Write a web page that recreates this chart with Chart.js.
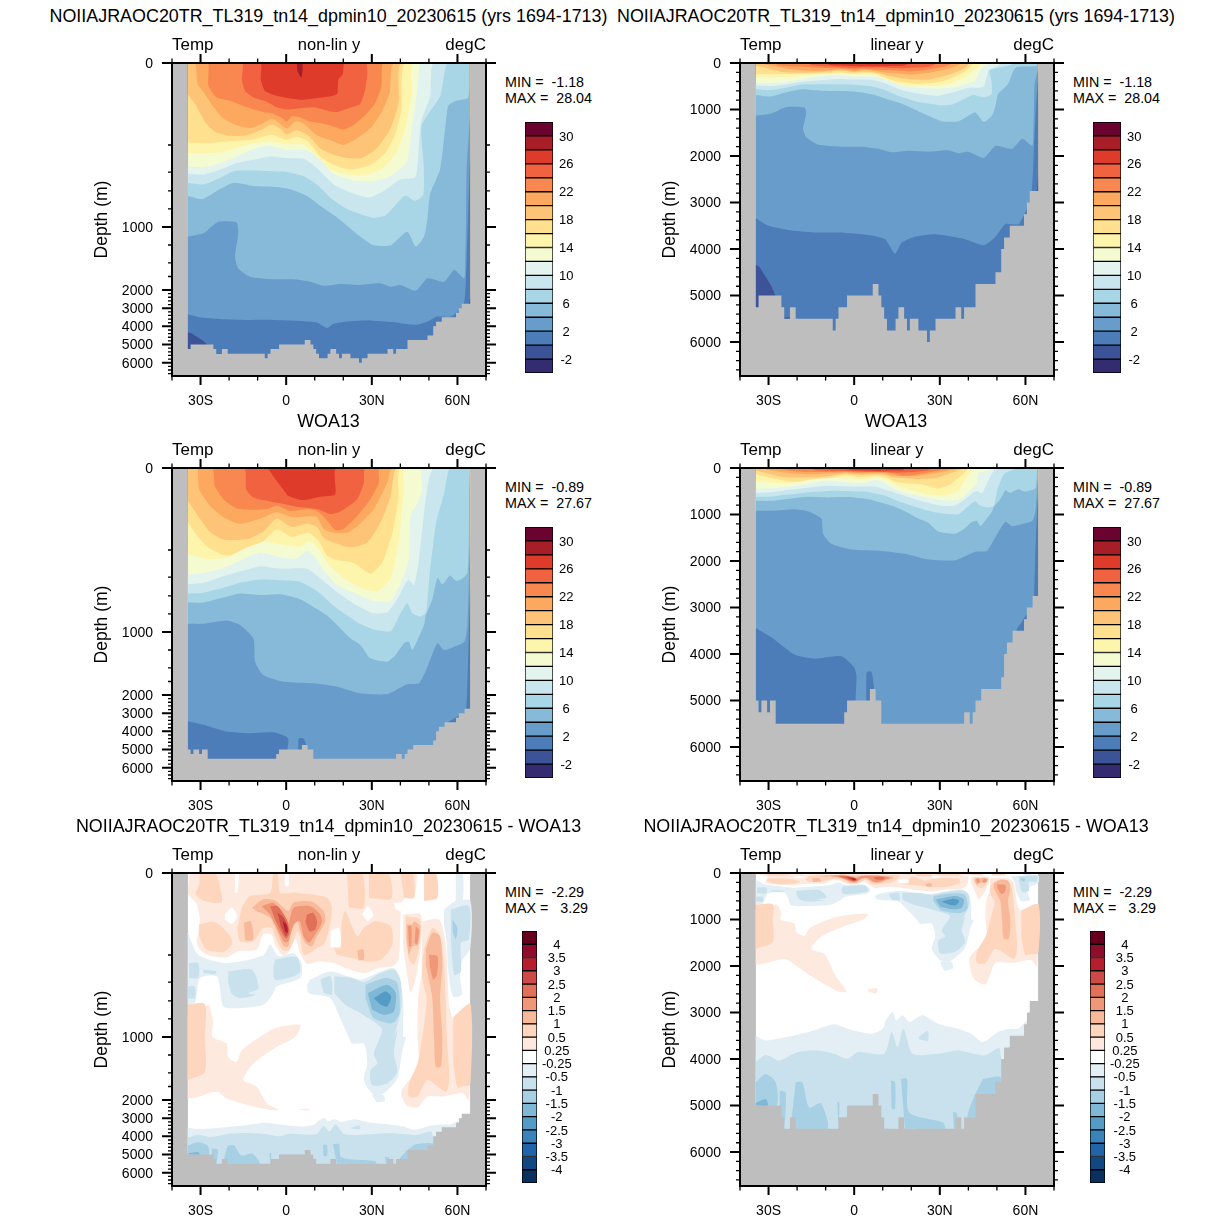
<!DOCTYPE html>
<html>
<head>
<meta charset="utf-8">
<title>Temp sections</title>
<script src="https://cdn.jsdelivr.net/npm/chart.js@4/dist/chart.umd.js"></script>
<style>
  body { margin: 0; background: #fff; }
  canvas { position: absolute; }
  .txt { position: absolute; white-space: pre; color: #000; font-family: "Liberation Sans", sans-serif; line-height: 1; }
</style>
</head>
<body>
<script>
// Contour bands, coldest first
const tempColors = ['#332c70','#3c5397','#4d7db8','#689dcb','#86bad8','#a8d6e6','#c9e6ef','#e3f3ee','#f4fbd0','#fef5ac','#fee08f','#fdc478','#fca85f','#f98850','#f16240','#df3b2a','#a81e28','#6a0330'];
const tempLabels = ['-2','','2','','6','','10','','14','','18','','22','','26','','30'];
const diffColors = ['#0b305f','#124882','#2264a9','#3a83ba','#549bc6','#7fb7d6','#a7d0e4','#c8e1ec','#e3eff5','#ffffff','#fee9df','#fdd6bd','#f8b99a','#f09778','#e07058','#ce4a47','#b61e2e','#8f0d2a','#67001f'];
const diffLabels = ['-4','-3.5','-3','-2.5','-2','-1.5','-1','-0.5','-0.25','0.25','0.5','1','1.5','2','2.5','3','3.5','4'];

const latTicks = [-30, 0, 30, 60];
const latLabels = ['30S', '0', '30N', '60N'];
const latMinor = [-40, -20, -10, 10, 20, 40, 50, 70];
const depthTicks = [0, 1000, 2000, 3000, 4000, 5000, 6000];

// Depths are listed on the stretched coordinate of the non-lin axis;
// the linear panels unstretch it with these two lists (coordinate -> metres).
const linCoord = [0, 200, 335, 500, 665, 780, 890, 1000, 1286, 1571, 1786, 2000, 6730];
const linMetres = [0, 60, 130, 250, 470, 640, 820, 1000, 1250, 1500, 1750, 2000, 6730];
const nonlinMinor = [500, 665, 780, 890, 1286, 1571, 1786, 2200, 2400, 2600, 2800, 3200, 3400, 3600, 3800, 4200, 4400, 4600, 4800, 5200, 5400, 5600, 5800, 6200, 6400, 6600];
const linearMinor = [200, 400, 600, 800, 1200, 1400, 1600, 1800, 2200, 2400, 2600, 2800, 3200, 3400, 3600, 3800, 4200, 4400, 4600, 4800, 5200, 5400, 5600, 5800, 6200, 6400, 6600];

// Sea floor: left edge of each step, depth of the step
const modelFloorLat = [-34.5,-33.5,-25.5,-24.5,-22.5,-20.5,-7.5,-6.5,-5.5,-2.5,6.5,8.5,9.5,10.5,11.5,14.5,15.5,17.5,18.5,19.5,22.5,25.5,26.5,28.5,35.5,37.5,38.5,42.5,49.5,51.5,52.5,54.5,59.5,60.5,61.5,64.5];
const modelFloorDepth = [5250,5000,5250,5500,5250,5500,5750,5500,5250,5000,4750,5000,5250,5500,5750,5500,5250,5500,5750,5500,5750,6000,5750,5500,5250,5500,5250,4750,4500,4000,3750,3500,3250,3000,2750,2750];
const woaFloorLat = [-34.5,-33.5,-32.5,-30.5,-29.5,-27.5,-3.5,-2.5,5.5,7.5,9.5,38.5,40.5,41.5,42.5,44.5,51.5,52.5,53.5,55.5,59.5,60.5,62.5,64.5];
const woaFloorDepth = [5000,5250,5000,5250,5000,5500,5250,5000,4750,5000,5500,5250,5500,5250,5000,4750,4500,4000,3750,3500,3250,3000,2750,2750];
const diffFloorLat = [-34.5,-25.5,-24.5,-22.5,-20.5,-5.5,-2.5,6.5,8.5,9.5,10.5,11.5,15.5,17.5,35.5,37.5,38.5,42.5,49.5,51.5,52.5,54.5,59.5,60.5,61.5,64.5];
const diffFloorDepth = [5000,5250,5500,5250,5500,5250,5000,4750,5000,5250,5500,5500,5250,5500,5250,5500,5250,4750,4500,4000,3750,3500,3250,3000,2750,2750];

// Model isotherms, [lat, depth]
const modelT28 = [[3.4,0],[4,50],[5.3,90],[5.8,40],[6,0]];
const modelT26 = [[-9.1,0],[-8.9,100],[-7.4,170],[-3.3,200],[1.4,216],[6,224],[10.7,214],[17.7,190],[18.3,100],[19.8,70],[20.6,0]];
const modelT24 = [[-15.5,0],[-15.5,100],[-14.4,170],[-11.4,210],[-6.8,236],[-3.3,270],[0.2,284],[4.9,276],[9.6,270],[14.2,290],[17.7,300],[21.8,276],[25.9,250],[27.7,160],[28.5,60],[28.5,0]];
const modelT22 = [[-27.5,0],[-27.2,140],[-24.3,210],[-19.6,230],[-13.8,270],[-7.9,300],[-5,306],[-1.5,336],[0.2,356],[2,324],[4.3,330],[8.4,356],[13,370],[17.2,390],[20,406],[23.5,380],[27,330],[31,250],[33.4,140],[34.2,0]];
const modelT20 = [[-31.9,0],[-31,130],[-28.4,190],[-25.4,270],[-21.9,340],[-17.3,380],[-12.6,396],[-8.5,370],[-5,340],[-2.1,370],[0.2,400],[3.2,356],[6.1,370],[10.7,440],[15.4,470],[20,500],[24.7,460],[29.4,400],[33.4,300],[36.3,180],[37.8,0]];
const modelT18 = [[-34.5,190],[-31.9,250],[-28.4,360],[-24.9,420],[-19.6,444],[-13.8,440],[-9.1,410],[-5,376],[-2.1,400],[0.2,436],[3.7,410],[7.8,444],[11.9,520],[16.6,560],[21.3,580],[26.5,580],[31.8,520],[36.5,400],[39.4,240],[40.3,0]];
const modelT16 = [[-34.5,484],[-28.4,490],[-24.3,484],[-18.4,476],[-12.6,470],[-8,450],[-5,436],[-2.1,456],[0.2,470],[3.7,450],[7.8,480],[11.9,570],[16.6,620],[22.4,650],[29.4,624],[34.6,550],[38.1,440],[40.4,280],[41.7,0]];
const modelT14 = [[-34.5,550],[-28.4,550],[-22.5,544],[-17.3,516],[-11.4,490],[-5,480],[0.2,496],[6.1,500],[10.7,570],[15.4,650],[21.3,680],[28.2,680],[34.1,640],[38.7,540],[41.7,400],[44,180],[44.6,0]];
const modelT12 = [[-34.5,630],[-28.9,636],[-23,610],[-17.3,570],[-11.4,524],[-6.2,504],[0.2,530],[7.2,530],[11.9,590],[16.6,676],[23.6,716],[30.6,720],[36.5,690],[42.3,600],[44,400],[45.2,260],[46.3,100],[47.2,0]];
const modelT10 = [[-34.5,676],[-28.9,680],[-23,650],[-17.3,610],[-11.4,590],[-5.6,570],[0.2,580],[6.1,584],[10.7,640],[16.6,740],[22.4,790],[28.9,820],[34.1,780],[40,710],[45.2,696],[46.3,560],[47.2,360],[50.5,200],[51.6,0]];
const modelT8 = [[-34.5,730],[-28.9,740],[-23,700],[-18.4,660],[-11.4,656],[-5.6,660],[0.2,664],[6.1,690],[10.7,740],[15.4,820],[21.3,890],[26,920],[30.6,944],[34.7,930],[38.1,870],[41.7,810],[45.2,840],[48.1,800],[48.1,600],[47.5,380],[54,200],[56.5,0]];
const modelT6 = [[-34.5,810],[-29.5,830],[-24.3,780],[-18.4,730],[-11.4,750],[-3.3,756],[1.4,770],[7.2,810],[11.9,870],[17.7,940],[26,1154],[30.7,1290],[36.6,1290],[42.4,1075],[45.4,1310],[48.3,1150],[49.5,950],[50.4,800],[53.9,650],[55.7,400],[56.8,260],[59.7,230],[63.8,210],[64.2,0]];
const modelT4 = [[-34.5,1154],[-29,1100],[-23.8,968],[-17.4,973],[-16.8,1100],[-17.9,1471],[-16.8,1656],[-12.7,1789],[-4.5,1830],[2.6,1830],[8.4,1868],[13.1,1932],[19,1905],[26,1920],[33,1894],[36.6,1948],[40,1920],[45.4,2040],[49.5,1814],[55.3,1868],[58.9,1683],[62.4,1814],[62.8,1417],[63,957],[63.2,660],[64.5,300]];
const modelT2 = [[-34.5,3331],[-30.2,3496],[-23.2,3590],[-13.8,3644],[-4.5,3644],[4.9,3699],[10.8,3790],[14.3,4100],[16.6,3863],[21.3,3736],[28.4,3680],[37.7,3770],[45.4,3918],[49.5,3736],[53,3463],[57.7,3463],[61.8,2915],[62.5,2500],[63,1800],[63.8,900],[64.5,550]];
const modelT0 = [[-34.5,4340],[-33,4400],[-31.4,4559],[-29,4800],[-27.3,5050],[-26,5300],[-24.6,5470],[-22.5,5480],[-22.4,6730],[63.8,6730],[63.9,3000],[64.5,2400]];

// WOA13 isotherms, [lat, depth]
const woaT26 = [[-6.8,0],[-4.5,50],[-1.5,120],[0.8,170],[6.1,195],[12,175],[17.2,160],[17.6,0]];
const woaT24 = [[-14.8,0],[-14,130],[-11.5,180],[-6.8,200],[-0.9,220],[4.9,240],[10.8,250],[15.5,280],[19,265],[24.9,190],[27.2,90],[27.8,0]];
const woaT22 = [[-25.9,0],[-25,110],[-22,190],[-17.4,245],[-11.5,255],[-6.8,250],[-3.3,230],[1.4,262],[7.3,252],[10.8,262],[14.3,320],[17.2,378],[20.2,370],[24.9,292],[29.5,190],[32.5,90],[32.8,0]];
const woaT20 = [[-31.2,0],[-30.5,130],[-26.7,230],[-22,300],[-16.2,340],[-9.1,310],[-3.3,270],[2,300],[7.3,295],[10.8,300],[13.1,370],[16.6,395],[21.3,395],[24.9,355],[30.7,250],[35.4,90],[37.2,0]];
const woaT18 = [[-34.5,200],[-30.2,310],[-26.7,390],[-22,436],[-13.8,435],[-7.9,385],[-3.3,310],[2,360],[7.3,340],[10.8,360],[13.1,425],[16.6,455],[22.5,485],[28.4,455],[33.1,330],[36.6,170],[38.9,0]];
const woaT16 = [[-34.5,330],[-31.8,400],[-27.7,480],[-22,530],[-15,530],[-7.9,445],[-3.3,375],[2,420],[7.9,395],[11.4,445],[14.3,535],[17.8,560],[23.7,580],[29.5,645],[33.6,580],[37.2,395],[39.3,190],[40.1,0]];
const woaT14 = [[-34.5,525],[-27.7,555],[-20.9,545],[-15,495],[-7.9,450],[-2.1,465],[4.9,480],[8.4,445],[11.4,495],[15.5,600],[20.2,670],[26,730],[31.9,750],[36.6,670],[39.5,435],[41.2,130],[41.5,0]];
const woaT12 = [[-34.5,650],[-28.9,640],[-22,610],[-16.2,565],[-9.1,515],[-2.1,545],[3.7,550],[7.3,505],[10.2,545],[13.1,625],[17.8,710],[23.7,760],[30.7,810],[36.6,810],[40.1,700],[43,555],[43.6,290],[46,210],[47.7,130],[47.7,0]];
const woaT10 = [[-34.5,710],[-28.9,700],[-22,660],[-16.2,630],[-9.1,600],[-0.9,615],[7.3,615],[13.1,690],[18.9,770],[24.9,840],[30.7,885],[35.4,880],[38.9,800],[41.9,700],[43,682],[44.8,715],[46.5,560],[48.9,190],[51.6,0]];
const woaT8 = [[-34.5,765],[-28.9,760],[-22,730],[-16.2,700],[-9.1,680],[-0.9,685],[4.9,695],[10.8,750],[16.6,840],[24.9,940],[30.7,985],[36.6,995],[39.5,905],[42.4,825],[44.2,885],[47.2,905],[49,880],[50.2,660],[52.5,335],[55.4,150],[57.4,0]];
const woaT6 = [[-34.5,820],[-28.9,820],[-22,790],[-16.2,765],[-9.1,775],[-2.1,770],[4.9,800],[10.8,860],[14.3,900],[17.8,957],[22.5,1100],[26,1206],[29.5,1418],[35.4,1471],[38.3,1365],[41.3,1179],[43,1154],[44.2,1286],[48.3,957],[48.9,900],[51.2,800],[53,670],[54.7,710],[57.4,655],[59.8,690],[63.5,640],[64.1,150],[64.4,0]];
const woaT4 = [[-34.5,950],[-29,950],[-20.9,930],[-16.2,957],[-11.5,1100],[-10.9,1471],[-8,1683],[-0.9,1789],[9.6,1814],[17.8,1868],[26,1974],[35.4,1985],[42.4,1830],[46.5,1814],[49.5,1550],[53,1179],[55.3,1286],[58.9,1233],[62.4,1154],[63.5,957],[64.1,640],[64.5,400]];
const woaT2 = [[-34.5,3440],[-29,3640],[-20.9,4010],[-13.8,4100],[-4.5,4047],[0,4285],[0.8,4466],[0.5,5014],[0.6,6730],[4.2,6730],[4.3,4400],[6,4380],[6.9,4700],[7,6730],[56.8,6730],[56.9,3480],[58.5,3330],[60.4,3160],[60.6,6730],[62.9,6730],[63,2900],[63.4,1980],[64,1000],[64.5,700]];

// Model minus WOA13, closed regions per band, [lat, depth]
const diffWarm025 = [
  [[-33.8,0],[-34.3,130],[-31.4,188],[-30.2,294],[-31.2,437],[-27.9,498],[-20.9,514],[-16.8,477],[-10.3,467],[-8,375],[-5,379],[-3.9,437],[-1.2,502],[0.8,481],[3.2,400],[4.9,488],[7.3,553],[11.4,539],[16.6,549],[21.3,583],[27.2,610],[32.5,579],[37.2,569],[39.5,518],[40.3,192],[41.9,151],[44.8,151],[46,0]],
  [[41,253],[47.1,253],[47.1,457],[45.4,641],[43.6,732],[42.4,620],[41,457]],
  [[47.7,294],[53.6,284],[55.9,437],[57.1,804],[58.9,906],[61.8,845],[64.5,800],[64.5,1420],[64,2000],[61.8,1890],[55.3,1945],[49.5,1945],[46,2400],[41.9,2270],[40.3,1870],[43,1690],[46.5,1590],[46,1000],[46.2,770],[47.4,620]],
  [[-34.5,875],[-30.2,865],[-27.3,804],[-25.6,906],[-25.8,1000],[-20.9,1105],[-20.3,1316],[-17.4,1395],[-15.6,1210],[-9.1,1000],[-3.9,946],[4.9,926],[3.2,1000],[-3.3,1158],[-11.5,1420],[-15,1684],[-10.3,1790],[-6.8,2180],[-2.7,2550],[-5.6,2550],[-15,2220],[-20.9,1973],[-24.4,1868],[-32.6,1973],[-34.5,1973]],
  [[4.5,2498],[8.2,2484],[7.6,2592],[5.2,2556]]
];
const diffHoles = [
  [[-21.5,253],[-19.1,212],[-17.1,263],[-19.1,310],[-21.5,284]],
  [[-17.9,0],[-16.6,0],[-17.1,120],[-17.9,120]],
  [[-0.4,0],[0.8,0],[0.8,80],[-0.4,80]],
  [[26.6,253],[28.6,202],[30.5,253],[28.6,298]],
  [[15.5,355],[18.4,335],[19,447],[15.5,453]],
  [[19.9,304],[20.4,233],[21.1,345],[20.2,365]],
  [[37.7,182],[40.7,182],[41,233],[38.4,222]]
];
const diffWarm05 = [
  [[-30.2,0],[-25,0],[-22.7,120],[-22.7,180],[-28.6,170],[-31.7,130],[-30.5,70]],
  [[-30.5,314],[-25.6,298],[-21.5,345],[-18.8,426],[-22,481],[-27.9,467],[-30.5,386]],
  [[-15.6,212],[-12.7,141],[-5.6,120],[-4.5,0],[-3,0],[-2.1,120],[2.6,120],[8.4,130],[14.3,151],[16,212],[14.9,355],[13.1,437],[10.8,457],[8.4,488],[6.1,498],[4.9,396],[3.8,355],[2.6,416],[0.8,473],[-1.5,467],[-3.9,386],[-5,335],[-8,335],[-11.5,416],[-16.2,416],[-17.1,335]],
  [[21.3,0],[26.6,0],[27.2,212],[21.9,212]],
  [[29,0],[35.7,0],[37.2,110],[36.6,161],[29,151]],
  [[16.6,457],[19,457],[19.5,294],[20.7,233],[24.9,386],[27.2,335],[31.3,294],[36.6,324],[37.2,437],[33.1,529],[27.8,539],[23.1,519],[17.8,498]],
  [[40.1,0],[44.2,0],[44.8,151],[41.3,151]],
  [[48.3,0],[52.4,0],[53,151],[48.3,171]],
  [[41.9,263],[46.9,284],[46.5,457],[44.8,559],[43,528],[41.9,396]],
  [[48.3,457],[51.2,335],[53.6,375],[55.3,559],[56.3,1000],[57.1,1684],[55.9,1868],[49.5,1684],[46,1945],[43,1945],[43,1737],[46,1420],[47.7,1000],[49.2,770],[47.7,645],[47.7,535]],
  [[58.5,880],[64.5,800],[64.5,1750],[62,1780],[60,1800],[58.5,1400]],
  [[-34.5,800],[-28.5,800],[-28.5,1000],[-28.5,1550],[-34.5,1684]]
];
const diffWarm1 = [
  [[-14.8,304],[-12.4,294],[-11.6,406],[-14.4,412]],
  [[-12.1,212],[-8,161],[-3.9,167],[-0.9,212],[0.8,233],[2.6,180],[9,175],[13.1,233],[13.7,294],[10.8,386],[9,447],[6.7,427],[4.9,355],[3.8,294],[1.4,376],[0.8,447],[-0.9,447],[-3,365],[-5.6,273],[-10.3,233]],
  [[24.9,473],[27,467],[27.2,528],[25.4,534]],
  [[42.2,314],[44.2,314],[44.8,294],[46.9,324],[46.2,437],[44.2,447],[43,498],[42.2,396]],
  [[48.9,467],[51.2,365],[53.9,386],[54.7,559],[53.9,763],[54.7,1000],[54.2,1473],[52.4,1473],[51.8,1000],[51.2,763],[50.1,661],[48.9,559]]
];
const diffWarm15 = [
  [[-8.6,202],[-4.5,182],[-0.9,253],[0.8,304],[2.6,212],[8.4,202],[11.9,253],[12.5,304],[10.2,375],[7.9,426],[6.1,386],[4.7,294],[2.6,314],[0.8,416],[-0.7,420],[-3.3,335],[-5.6,253]],
  [[42.7,324],[43.8,324],[43.8,447],[43,447]],
  [[45.4,324],[46.5,345],[45.9,437],[45,426]],
  [[50,498],[53,508],[52.8,620],[51.6,651],[50.4,579]]
];
const diffWarm2 = [
  [[-5.6,202],[-3,202],[0.2,284],[1.2,365],[0,400],[-1.9,355],[-3.9,284]],
  [[7.3,253],[9.4,243],[10.8,294],[10.2,345],[8.2,355],[6.7,298]]
];
const diffWarm25 = [[[-3,243],[-0.9,273],[0.8,345],[0,386],[-1.9,324]]];
const diffWarm3 = [[[-1.2,294],[0.2,314],[0.5,365],[-0.4,355]]];
const diffCool025 = [
  [[-34.5,365],[-30.8,498],[-20.9,549],[-8,502],[-5.6,437],[-2.7,508],[2.6,488],[5.5,559],[4.9,641],[-3.3,692],[-4.5,733],[-8,804],[-16.2,824],[-22,814],[-23.2,702],[-24.4,630],[-30.2,641],[-32,794],[-34.5,800]],
  [[8.4,650],[15.5,600],[26,650],[31.9,610],[37.8,579],[39.9,640],[41,804],[41,1000],[41.9,1000],[40.7,1210],[38.9,1657],[34.2,1894],[30.7,1920],[27.2,1684],[28.4,1420],[27.2,1105],[23.1,1105],[21.9,1000],[18.4,865],[15.5,763],[7.9,732],[7.3,681]],
  [[30,1920],[34,1920],[34.6,2050],[31.6,2110]],
  [[55.3,222],[59.4,171],[64.5,171],[64.5,457],[61.5,538],[60.9,641],[61.5,743],[58.5,753],[56.8,600],[56.2,416],[55.3,314]],
  [[59.4,0],[61.8,0],[61.8,171],[59.4,171]],
  [[-34.5,3506],[-31,3600],[-27,3564],[-21.1,3492],[-14.1,3384],[-7,3254],[-2.3,3348],[5.9,3456],[10,3348],[11.1,3168],[13.5,2988],[14.7,3168],[17,3060],[19.3,3204],[24,3060],[29.3,3240],[36.3,3348],[41,3456],[45.1,3636],[50.4,3420],[54.5,3348],[57.5,3348],[60.5,3200],[60.6,6730],[-34.5,6730]]
];
const diffCool05 = [
  [[-34,549],[-30.8,549],[-30.8,641],[-34,641]],
  [[-29,590],[-24.4,600],[-25,616],[-29,610]],
  [[-34.5,692],[-32,692],[-32,763],[-34.5,763]],
  [[-20.3,600],[-12,590],[-9.7,702],[-13.2,733],[-10.3,743],[-16.2,763],[-19.1,733],[-20.3,661]],
  [[-3.9,528],[3.8,514],[4.9,600],[2.6,630],[-3.9,651],[-4.5,579]],
  [[12,650],[15.5,630],[16,742],[13.1,732]],
  [[16.9,630],[23.1,640],[27.4,665],[31.9,620],[37.8,590],[40.1,662],[40.3,824],[37.8,1000],[38.9,957],[37.7,1263],[38.9,1552],[35.4,1737],[30.1,1763],[29.5,1526],[31.9,1420],[30.7,1263],[33.6,957],[30.7,906],[26,855],[20.7,804],[16.9,732]],
  [[57.7,222],[64,202],[64,406],[61.2,426],[61.2,600],[58.9,620],[57.7,416]],
  [[-34.5,4068],[-31,3910],[-26.4,4032],[-19.9,3852],[-12.9,3816],[-7,3888],[-2.3,3996],[1.2,3852],[10.5,3888],[13.1,3420],[15.2,3744],[17.3,3348],[20.5,3888],[29.3,3888],[36.3,3816],[45.7,3924],[51,3780],[51.6,6730],[-34.5,6730]],
  [[22.5,3528],[25.8,3398],[25.8,3600],[22.9,3578]]
];
const diffCool1 = [
  [[27.8,681],[34.8,640],[38.9,670],[39.7,855],[37.1,916],[30.7,885],[29,824],[27.8,763]],
  [[58.3,284],[60,335],[59.4,406],[58.3,355]],
  [[-34.5,4500],[-31,4320],[-27.5,4500],[-27.2,5000],[-34.5,5000]],
  [[-26.1,4680],[-24,4716],[-24.6,5500],[-26.1,5220]],
  [[-20.5,4500],[-18.2,4500],[-15.8,5040],[-11.7,4950],[-9.4,5500],[-22.3,5500]],
  [[-5.9,4930],[-5.2,4930],[-5.5,5500]],
  [[12.9,4464],[14.3,4500],[14.3,5076],[13.1,5076]],
  [[16.4,4428],[18.5,4428],[19.3,5148],[31.1,5364],[31.7,5500],[17.8,5500]],
  [[45.1,4428],[51.3,4392],[51.3,5000],[39.9,5256],[42,4800]],
  [[34.6,5130],[36.1,5180],[35.8,5500],[34.9,5500]]
];
const diffCool15 = [
  [[28.6,732],[35.4,681],[38.4,732],[37.7,845],[34.2,865],[30.1,834]],
  [[-34.5,4946],[-31,4860],[-30.2,5000],[-34.5,5000]]
];
const diffCool2 = [[[30.7,763],[34.8,722],[36.8,753],[35.4,814],[33.1,804]]];

const FLOOR = '#bebebe';
const MAX_DEPTH = 6730;
const WEST = -34.5, EAST = 64.5;

function interp(v, xs, ys) {
  for (let i = 1; i < xs.length; i++) {
    if (v <= xs[i]) return ys[i - 1] + (v - xs[i - 1]) / (xs[i] - xs[i - 1]) * (ys[i] - ys[i - 1]);
  }
  return ys[ys.length - 1];
}

// Two depth axes: stretched upper ocean, and plain metres
class DepthNonlin extends Chart.LinearScale {
  static id = 'depthNonlin';
  static defaults = {};
  getPixelForValue(v) {
    return this.getPixelForDecimal(interp(v, [0, 1000, 2000, MAX_DEPTH], [0, 164 / 313, 227 / 313, 1]));
  }
}
class DepthLinear extends Chart.LinearScale {
  static id = 'depthLinear';
  static defaults = {};
  getPixelForValue(v) {
    return this.getPixelForDecimal(interp(v, linCoord, linMetres) / MAX_DEPTH);
  }
}
Chart.register(DepthNonlin, DepthLinear);
Chart.defaults.font.family = '"Liberation Sans", sans-serif';
Chart.defaults.font.size = 14;
Chart.defaults.color = '#000';

// Keep the plot box fixed: no room reserved for the end tick labels
function fixSize(scale, width, height) {
  if (width) scale.width = width;
  if (height) scale.height = height;
  scale.paddingTop = scale.paddingBottom = scale.paddingLeft = scale.paddingRight = 0;
}

// Grey backdrop, black frame and the outward ticks on all four sides
const framePlugin = {
  id: 'frame',
  beforeDatasetsDraw(chart) {
    const { ctx, chartArea: a } = chart;
    ctx.fillStyle = FLOOR;
    ctx.fillRect(a.left, a.top, a.width, a.height);
  },
  afterDraw(chart, args, opts) {
    const { ctx, chartArea: a, scales } = chart;
    ctx.strokeStyle = '#000';
    const tick = (p, len, w, horiz) => {
      ctx.lineWidth = w;
      ctx.beginPath();
      if (horiz) {
        ctx.moveTo(a.left, p); ctx.lineTo(a.left - len, p);
        ctx.moveTo(a.right, p); ctx.lineTo(a.right + len, p);
      } else {
        ctx.moveTo(p, a.top); ctx.lineTo(p, a.top - len);
        ctx.moveTo(p, a.bottom); ctx.lineTo(p, a.bottom + len);
      }
      ctx.stroke();
    };
    latTicks.forEach(v => tick(scales.x.getPixelForValue(v), 9, 2, false));
    latMinor.forEach(v => tick(scales.x.getPixelForValue(v), 4.5, 1.3, false));
    depthTicks.forEach(v => tick(scales.y.getPixelForValue(v), 10, 2, true));
    opts.minor.forEach(v => tick(scales.y.getPixelForValue(v), 4, 1.3, true));
    ctx.lineWidth = 2;
    ctx.strokeRect(a.left, a.top, a.width, a.height);
  }
};

const toXY = pts => pts.map(p => ({ x: p[0], y: p[1] }));

// One isotherm: everything under it takes the next colder colour
function isoLayer(pts, color) {
  const full = [[WEST, pts[0][1]], ...pts, [EAST, pts[pts.length - 1][1]]];
  return { data: toXY(full), backgroundColor: color, fill: { value: MAX_DEPTH }, tension: 0.2 };
}
function regionLayers(polys, color) {
  return polys.map(p => ({ data: toXY(p), backgroundColor: color, fill: 'shape', tension: 0.25 }));
}
// The floor runs a little past both coasts so it covers the edge of the bands below it
function floorLayer(lats, depths) {
  const data = lats.map((x, i) => ({ x, y: depths[i] }));
  data.unshift({ x: WEST - 1, y: depths[0] });
  data.push({ x: EAST + 1, y: depths[depths.length - 1] });
  return { data, backgroundColor: FLOOR, fill: { value: MAX_DEPTH }, stepped: 'before', tension: 0 };
}

const modelIsos = [modelT28, modelT26, modelT24, modelT22, modelT20, modelT18, modelT16, modelT14, modelT12, modelT10, modelT8, modelT6, modelT4, modelT2, modelT0];
const woaIsos = [woaT26, woaT24, woaT22, woaT20, woaT18, woaT16, woaT14, woaT12, woaT10, woaT8, woaT6, woaT4, woaT2];

const flatSurface = [[WEST, 0], [EAST, 0]];
const modelLayers = [isoLayer(flatSurface, tempColors[16]), ...modelIsos.map((p, i) => isoLayer(p, tempColors[15 - i])), floorLayer(modelFloorLat, modelFloorDepth)];
const woaLayers = [isoLayer(flatSurface, tempColors[15]), ...woaIsos.map((p, i) => isoLayer(p, tempColors[14 - i])), floorLayer(woaFloorLat, woaFloorDepth)];
const diffLayers = [
  isoLayer(flatSurface, diffColors[9]),
  ...regionLayers(diffWarm025, diffColors[10]),
  ...regionLayers(diffHoles, diffColors[9]),
  ...regionLayers(diffWarm05, diffColors[11]),
  ...regionLayers(diffWarm1, diffColors[12]),
  ...regionLayers(diffWarm15, diffColors[13]),
  ...regionLayers(diffWarm2, diffColors[14]),
  ...regionLayers(diffWarm25, diffColors[15]),
  ...regionLayers(diffWarm3, diffColors[16]),
  ...regionLayers(diffCool025, diffColors[8]),
  ...regionLayers(diffCool05, diffColors[7]),
  ...regionLayers(diffCool1, diffColors[6]),
  ...regionLayers(diffCool15, diffColors[5]),
  ...regionLayers(diffCool2, diffColors[4]),
  floorLayer(diffFloorLat, diffFloorDepth)
];

function addText(str, x, y, align, size) {
  const el = document.createElement('div');
  el.className = 'txt';
  el.textContent = str;
  el.style.left = x + 'px';
  el.style.top = y + 'px';
  el.style.fontSize = size + 'px';
  const dx = align === 'center' ? '-50%' : align === 'right' ? '-100%' : '0';
  el.style.transform = 'translate(' + dx + ',-50%)';
  document.body.appendChild(el);
}

function addCanvas(left, top, width, height) {
  const c = document.createElement('canvas');
  c.width = width;
  c.height = height;
  c.style.left = left + 'px';
  c.style.top = top + 'px';
  c.style.width = width + 'px';
  c.style.height = height + 'px';
  document.body.appendChild(c);
  return c;
}

function drawSection(left, top, layers, linear) {
  const axisW = 84, axisH = 40, pad = 12;
  const canvas = addCanvas(left - axisW, top - pad, axisW + 314 + pad, pad + 313 + axisH);
  // first dataset is painted last, so the layers go in reversed
  const datasets = layers.slice().reverse().map(d => ({ ...d, borderWidth: 0, pointRadius: 0, borderColor: 'transparent' }));
  new Chart(canvas, {
    type: 'line',
    data: { datasets },
    plugins: [framePlugin],
    options: {
      responsive: false,
      animation: false,
      events: [],
      layout: { autoPadding: false, padding: { top: pad, right: pad, left: 0, bottom: 0 } },
      plugins: {
        legend: { display: false },
        title: { display: false },
        tooltip: { enabled: false },
        frame: { minor: linear ? linearMinor.map(m => interp(m, linMetres, linCoord)) : nonlinMinor }
      },
      scales: {
        x: {
          type: 'linear', min: -40, max: 70,
          grid: { display: false, drawTicks: false },
          border: { display: false },
          afterBuildTicks: s => { s.ticks = latTicks.map(value => ({ value })); },
          afterFit: s => fixSize(s, 0, axisH),
          ticks: { autoSkip: false, maxRotation: 0, padding: 17, callback: (v, i) => latLabels[i] }
        },
        y: {
          type: linear ? 'depthLinear' : 'depthNonlin', min: 0, max: MAX_DEPTH, reverse: true,
          grid: { display: false, drawTicks: false },
          border: { display: false },
          title: { display: true, text: 'Depth (m)', font: { size: 17.5 }, padding: { top: 4, bottom: 0 } },
          afterBuildTicks: s => { s.ticks = depthTicks.map(value => ({ value })); },
          afterFit: s => fixSize(s, axisW, 0),
          ticks: { autoSkip: false, padding: 19, labelOffset: 1, callback: v => String(v) }
        }
      }
    }
  });
}

function drawColorbar(left, top, barW, height, colors, labels, labelW, padding) {
  const canvas = addCanvas(left - 1, top - 1, 1 + barW + labelW, height + 2);
  const datasets = colors.map((c, i) => ({
    data: [[i, i + 1]], backgroundColor: c, borderColor: '#000', borderWidth: 1, borderSkipped: false,
    grouped: false, barPercentage: 1, categoryPercentage: 1
  }));
  new Chart(canvas, {
    type: 'bar',
    data: { labels: [''], datasets },
    options: {
      responsive: false,
      animation: false,
      events: [],
      layout: { autoPadding: false, padding: { top: 1, bottom: 1, left: 1, right: 0 } },
      plugins: { legend: { display: false }, title: { display: false }, tooltip: { enabled: false } },
      scales: {
        x: { display: false },
        y: {
          position: 'right', min: 0, max: colors.length,
          grid: { display: false, drawTicks: false },
          border: { display: false },
          afterBuildTicks: s => { s.ticks = labels.map((_, i) => ({ value: i + 1 })); },
          afterFit: s => fixSize(s, labelW, 0),
          ticks: { autoSkip: false, padding, labelOffset: 1, crossAlign: 'center', font: { size: 13 }, callback: (v, i) => labels[i] }
        }
      }
    }
  });
}

const modelName = 'NOIIAJRAOC20TR_TL319_tn14_dpmin10_20230615';
const columns = [
  { plot: 172, center: 328.5, text: 505, tempBar: 525, diffBar: 522, yLabel: 'non-lin y', linear: false },
  { plot: 740, center: 896, text: 1073, tempBar: 1093, diffBar: 1090, yLabel: 'linear y', linear: true }
];
const rows = [
  { top: 63, title: modelName + ' (yrs 1694-1713)', layers: modelLayers, min: 'MIN =  -1.18', max: 'MAX =  28.04', diff: false },
  { top: 468, title: 'WOA13', layers: woaLayers, min: 'MIN =  -0.89', max: 'MAX =  27.67', diff: false },
  { top: 873, title: modelName + ' - WOA13', layers: diffLayers, min: 'MIN =  -2.29', max: 'MAX =   3.29', diff: true }
];

rows.forEach(r => columns.forEach(c => {
  drawSection(c.plot, r.top, r.layers, c.linear);
  addText(r.title, c.center, r.top - 46, 'center', 17.9);
  addText('Temp', c.plot, r.top - 19, 'left', 17);
  addText(c.yLabel, c.plot + 157, r.top - 19, 'center', 16.5);
  addText('degC', c.plot + 314, r.top - 19, 'right', 17);
  addText(r.min, c.text, r.top + 19, 'left', 14.3);
  addText(r.max, c.text, r.top + 35, 'left', 14.3);
  if (r.diff) drawColorbar(c.diffBar, r.top + 58, 15, 252, diffColors, diffLabels, 50, 5);
  else drawColorbar(c.tempBar, r.top + 59, 28, 251, tempColors, tempLabels, 40, 6);
}));
</script>
</body>
</html>
